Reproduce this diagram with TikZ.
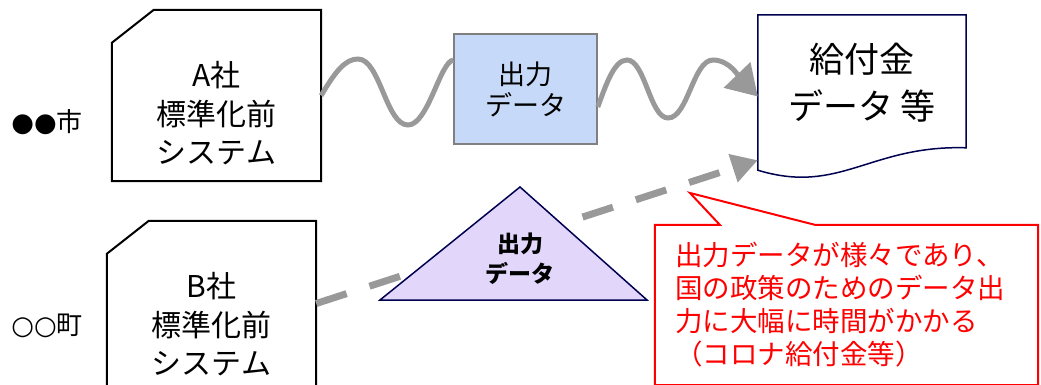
\documentclass[tikz,border=0pt]{standalone}
\usepackage{fontspec}
\setmainfont{Noto Sans CJK JP}
\newfontfamily\symfont{DejaVu Sans}
\usepackage{tikz}
\usetikzlibrary{arrows.meta}
\definecolor{wavegray}{RGB}{153,153,153}
\definecolor{boxgray}{RGB}{128,128,128}
\definecolor{outblue}{RGB}{198,217,248}
\definecolor{outlilac}{RGB}{226,215,250}
\definecolor{docnavy}{RGB}{0,0,80}
\definecolor{notered}{RGB}{255,0,0}
\tikzset{
  citytext/.style={
    inner sep=0pt,
    font=\fontsize{26}{30}\selectfont
  },
  sysbox/.style={
    rectangle,
    minimum width=209pt,
    minimum height=171pt,
    inner sep=0pt
  },
  sysline/.style={
    draw=black,
    line width=2pt,
    line join=miter
  },
  systext/.style={
    align=center,
    font=\fontsize{30}{38.5}\selectfont
  },
  outbox/.style={
    rectangle,
    draw=boxgray,
    fill=outblue,
    line width=1.5pt,
    minimum width=143pt,
    minimum height=110pt,
    align=center,
    font=\fontsize{27}{31}\selectfont
  },
  docbox/.style={
    rectangle,
    minimum width=208pt,
    minimum height=155pt,
    inner sep=0pt
  },
  doctext/.style={
    align=center,
    font=\fontsize{35}{47}\selectfont
  },
  docline/.style={
    draw=docnavy,
    line width=1.5pt
  },
  tribox/.style={
    draw=docnavy,
    fill=outlilac,
    line width=1.5pt,
    line join=miter
  },
  tritext/.style={
    align=center,
    font=\bfseries\fontsize{23}{30}\selectfont
  },
  notebox/.style={
    rectangle,
    align=left,
    text width=343pt,
    inner xsep=20pt,
    minimum height=160pt,
    text=notered,
    font=\fontsize{27.5}{33}\selectfont
  },
  noteline/.style={
    draw=notered,
    line width=2pt,
    line join=miter
  },
  wave/.style={
    draw=wavegray,
    line width=5pt,
    -{Triangle[length=30pt,width=36pt]}
  },
  wavenoarrow/.style={
    draw=wavegray,
    line width=5pt
  },
  dasharrow/.style={
    draw=wavegray,
    line width=7pt,
    dash pattern=on 32pt off 24pt,
    -{Triangle[length=26pt,width=28pt]}
  }
}
\begin{document}
\begin{tikzpicture}[x=1pt,y=-1pt]
\useasboundingbox (0,0) rectangle (1041,385);
\clip (0,0) rectangle (1041,385);

% municipalities
\node[citytext] (cityA) at (47,122) {{\symfont ●●}市};
\node[citytext] (cityB) at (47,326) {{\symfont ○○}町};

% vendor systems
\node[sysbox, label={[systext, yshift=-18pt]center:{A社\\標準化前\\システム}}] (sysA) at (216.5,95.5) {};
\node[sysbox, label={[systext, yshift=-18pt]center:{B社\\標準化前\\システム}}] (sysB) at (211.5,306.5) {};
\draw[sysline] ([yshift=-33pt]sysA.north west) -- ([xshift=42pt]sysA.north west) -- (sysA.north east)
  -- (sysA.south east) -- (sysA.south west) -- cycle;
\draw[sysline] ([yshift=-33pt]sysB.north west) -- ([xshift=42pt]sysB.north west) -- (sysB.north east)
  -- (sysB.south east) -- (sysB.south west) -- cycle;

% output data and target
\node[outbox] (outA) at (525.5,89) {出力\\データ};
\node[docbox, label={[doctext, yshift=9.5pt]center:{給付金\\データ 等}}] (doc) at (862,92.5) {};
\draw[docline] (doc.south west) -- (doc.north west) -- (doc.north east) -- ++(0,133)
  .. controls +(-96,-3) and +(82,25) .. (doc.south west) -- cycle;

% wavy flow
\draw[wavenoarrow] (sysA.east) .. controls (335,72) and (345,59) .. (358,59)
  .. controls (380,59) and (386,125) .. (408,125)
  .. controls (428,125) and (440,62) .. ([yshift=29pt]outA.west);
\draw[wave] ([yshift=-18pt]outA.east) .. controls (606,85) and (614,60) .. (627,60)
  .. controls (645,60) and (650,118) .. (668,118)
  .. controls (688,118) and (693,60) .. (713,60)
  .. controls (730,60) and (740,78) .. ([yshift=-4pt]doc.west);

% dashed flow
\draw[dasharrow] ([yshift=3pt]sysB.east) -- ([yshift=10pt]doc.south west);
\draw[tribox] (380,300) -- (520,187) -- (647,300) -- cycle;
\node[tritext] (outB) at (520,259) {出力\\データ};

% callout
\node[notebox] (note) at (846.5,305) {出力データが様々であり、\\国の政策のためのデータ出\\力に大幅に時間がかかる\\（コロナ給付金等）};
\coordinate (notetip) at (690,193);
\draw[noteline] (note.north west) -- ([xshift=65pt]note.north west) -- (notetip)
  -- ([xshift=160pt]note.north west) -- (note.north east) -- (note.south east)
  -- (note.south west) -- cycle;
\end{tikzpicture}
\end{document}
